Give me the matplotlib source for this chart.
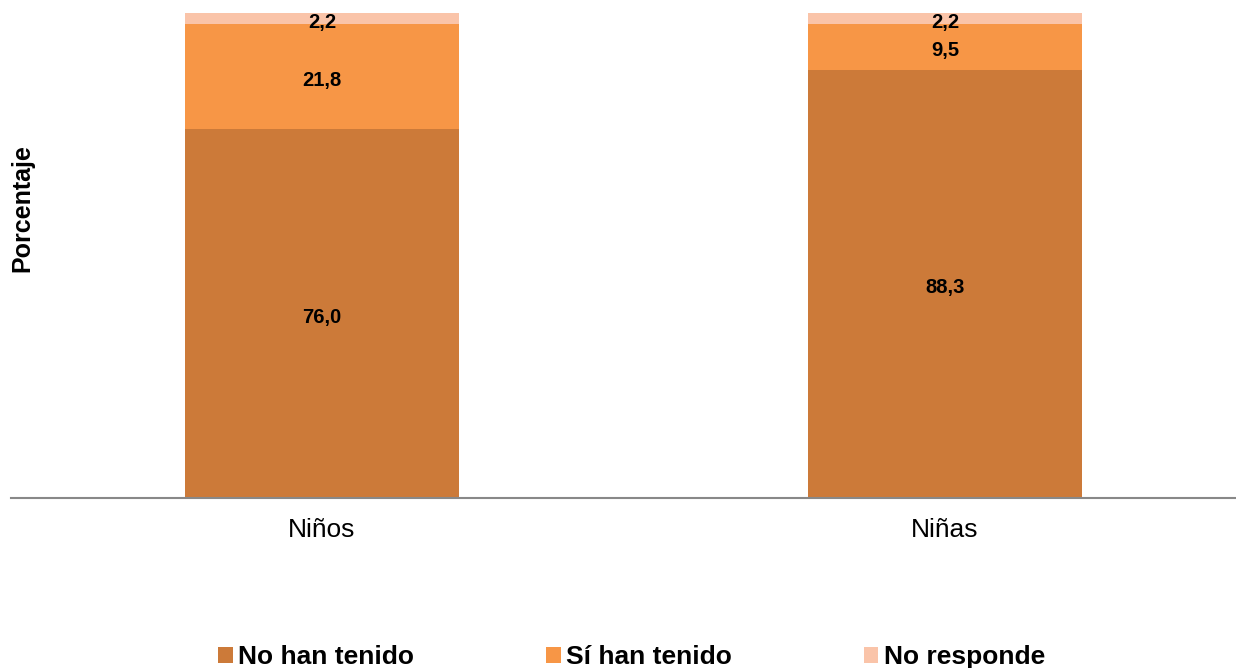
import matplotlib
matplotlib.use("Agg")
import matplotlib.pyplot as plt

plt.rcParams['font.family'] = ['Liberation Sans', 'DejaVu Sans']

categories = ["Niños", "Niñas"]
series_names = ["No han tenido", "Sí han tenido", "No responde"]
no_han_tenido = [76.0, 88.3]
si_han_tenido = [21.8, 9.5]
no_responde = [2.2, 2.2]
colors = ["#CC7A39", "#F79646", "#FAC4A9"]

fig = plt.figure(figsize=(12.36, 6.68), dpi=100)
ax = fig.add_axes([11/1236, 1 - 497.5/668, 1 - 11/1236, (497.5 - 13)/668])

x = list(range(len(categories)))
width = 0.44
series = [no_han_tenido, si_han_tenido, no_responde]
bottoms = [0.0] * len(categories)
for name, vals, col in zip(series_names, series, colors):
    ax.bar(x, vals, width, bottom=bottoms, color=col, label=name, linewidth=0)
    for xi, v, b in zip(x, vals, bottoms):
        ax.annotate(f"{v:.1f}".replace(".", ","), (xi, b + v / 2), xytext=(0, -3),
                    textcoords="offset points", ha="center", va="center",
                    fontsize=14.5, fontweight="bold", color="black")
    bottoms = [b + v for b, v in zip(bottoms, vals)]

ax.set_ylim(0, 100)
ax.set_xlim(-0.499, 1.467)
ax.set_xticks(x)
ax.set_xticklabels(categories, fontsize=19)
ax.tick_params(axis="x", length=0, pad=15)
ax.set_yticks([])
for s in ["top", "right", "left"]:
    ax.spines[s].set_visible(False)
ax.spines["bottom"].set_color("#888888")
ax.spines["bottom"].set_linewidth(1.5)

fig.text(22/1236, 1 - 208/668, "Porcentaje", rotation=90, ha="center", va="center",
         fontsize=18, fontweight="bold")

fig.legend(loc="center", bbox_to_anchor=(0.511, 1 - 657/668), ncol=3, frameon=False,
           prop={"size": 19, "weight": "bold"}, handlelength=0.55, handleheight=0.55,
           handletextpad=0.2, columnspacing=5.0, borderaxespad=0, borderpad=0)

fig.savefig("out.png", dpi=100)
